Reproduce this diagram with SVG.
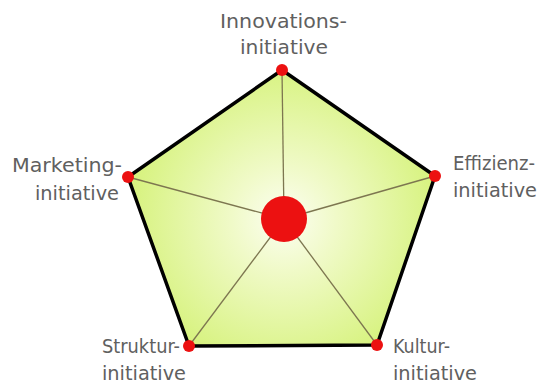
<svg xmlns="http://www.w3.org/2000/svg" width="539" height="383" viewBox="0 0 539 383">
<style>
.lbl{font-family:"DejaVu Sans","Liberation Sans",sans-serif;font-size:20px;fill:#606060;}
.spoke{stroke:#7d7650;stroke-width:1.3;fill:none;}
.dot{fill:#ec1111;}
</style>
<defs>
<radialGradient id="g" cx="284" cy="219" r="175" gradientUnits="userSpaceOnUse">
<stop offset="0" stop-color="#fcfef2"/>
<stop offset="0.3" stop-color="#f0fac8"/>
<stop offset="1" stop-color="#d2f170"/>
</radialGradient>
</defs>
<rect width="539" height="383" fill="#ffffff"/>
<polygon points="282,70 435,176 377,345 189,346 128,177" fill="url(#g)" stroke="#000" stroke-width="3.5" stroke-linejoin="round"/>
<g id="connectors">
<line class="spoke" x1="284" y1="219" x2="282" y2="70"/>
<line class="spoke" x1="284" y1="219" x2="435" y2="176"/>
<line class="spoke" x1="284" y1="219" x2="377" y2="345"/>
<line class="spoke" x1="284" y1="219" x2="189" y2="346"/>
<line class="spoke" x1="284" y1="219" x2="128" y2="177"/>
</g>
<g id="center"><circle class="dot" cx="284" cy="219" r="23"/></g>
<g id="innovation">
<circle class="dot" cx="282" cy="70" r="6"/>
<text class="lbl" x="220" y="28" textLength="127" lengthAdjust="spacingAndGlyphs">Innovations-</text>
<text class="lbl" x="240" y="54" textLength="88" lengthAdjust="spacingAndGlyphs">initiative</text>
</g>
<g id="effizienz">
<circle class="dot" cx="435" cy="176" r="6"/>
<text class="lbl" x="453" y="170" textLength="82" lengthAdjust="spacingAndGlyphs">Effizienz-</text>
<text class="lbl" x="453" y="197" textLength="84" lengthAdjust="spacingAndGlyphs">initiative</text>
</g>
<g id="kultur">
<circle class="dot" cx="377" cy="345" r="6"/>
<text class="lbl" x="393" y="353" textLength="57" lengthAdjust="spacingAndGlyphs">Kultur-</text>
<text class="lbl" x="393" y="380" textLength="84" lengthAdjust="spacingAndGlyphs">initiative</text>
</g>
<g id="struktur">
<circle class="dot" cx="189" cy="346" r="6"/>
<text class="lbl" x="102" y="353" textLength="78" lengthAdjust="spacingAndGlyphs">Struktur-</text>
<text class="lbl" x="102" y="380" textLength="84" lengthAdjust="spacingAndGlyphs">initiative</text>
</g>
<g id="marketing">
<circle class="dot" cx="128" cy="177" r="6"/>
<text class="lbl" x="12" y="172" textLength="110" lengthAdjust="spacingAndGlyphs">Marketing-</text>
<text class="lbl" x="35" y="200" textLength="84" lengthAdjust="spacingAndGlyphs">initiative</text>
</g>
</svg>
